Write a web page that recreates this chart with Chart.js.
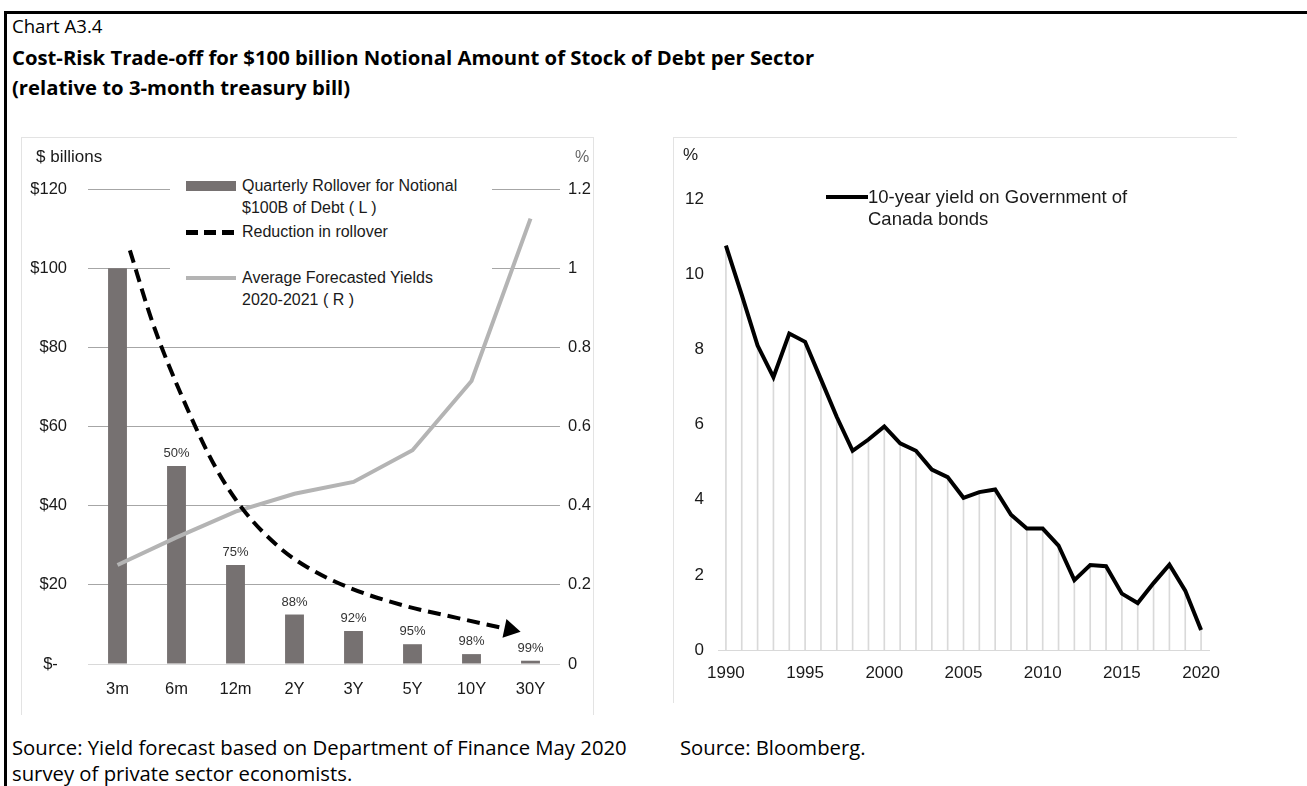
<!DOCTYPE html>
<html><head><meta charset="utf-8">
<script src="https://cdn.jsdelivr.net/npm/chart.js@4"></script>
<style>
html,body{margin:0;background:#fff}
#page{position:relative;width:1307px;height:786px;overflow:hidden;font-family:"Open Sans","Noto Sans",sans-serif;color:#000}
.frame{position:absolute;left:4px;top:11px;right:-10px;bottom:-10px;border-top:3px solid #000;border-left:3px solid #000}
.t{position:absolute;white-space:nowrap}
.hd{font-size:18.6px;line-height:22px}
.ttl{font-size:20.3px;font-weight:700;line-height:26px}
.src{font-size:20.3px;line-height:26px}
.panel{position:absolute;box-sizing:border-box;background:#fff;border:1px solid #e3e3e3}
.cl{font-family:"Liberation Sans",Arial,sans-serif;font-size:16px;line-height:22px;color:#1a1a1a}
.cr{font-family:"Liberation Sans",Arial,sans-serif;font-size:18.5px;line-height:22px;color:#1a1a1a}
canvas{position:absolute}
.lg{position:absolute;background:#fff}
.sw{position:absolute}
</style></head>
<body><div id="page">
<div class="frame"></div>
<div class="t hd" style="left:12px;top:15px">Chart A3.4</div>
<div class="t ttl" style="left:12px;top:44px">Cost-Risk Trade-off for $100 billion Notional Amount of Stock of Debt per Sector</div>
<div class="t ttl" style="left:12px;top:74px">(relative to 3-month treasury bill)</div>

<div class="panel" style="left:21px;top:137px;width:573px;height:578px;border-bottom:none"></div>
<div class="panel" style="left:673px;top:137px;width:564px;height:566px;border-right:none;border-bottom:none"></div>

<canvas id="rollChart" width="571" height="577" style="left:22px;top:138px"></canvas>
<canvas id="gocChart" width="562" height="565" style="left:674px;top:138px"></canvas>

<div class="t cl" style="left:36px;top:146px;font-size:17px">$ billions</div>
<div class="t cl" style="left:575px;top:146px;color:#666">%</div>
<div class="t cr" style="left:683px;top:144px;font-size:17px">%</div>

<!-- legende gauche -->
<div class="lg" style="left:170px;top:175px;width:322px;height:138px"></div>
<div class="sw" style="left:186px;top:181px;width:50px;height:10px;background:#767171"></div>
<div class="t cl" style="left:242px;top:175px">Quarterly Rollover for Notional<br>$100B of Debt ( L )</div>
<div class="sw" style="left:186px;top:230px;width:50px;height:5px;background:repeating-linear-gradient(90deg,#000 0 12px,transparent 12px 18px)"></div>
<div class="t cl" style="left:242px;top:221px">Reduction in rollover</div>
<div class="sw" style="left:186px;top:276px;width:50px;height:4px;background:#b4b4b4"></div>
<div class="t cl" style="left:242px;top:267px">Average Forecasted Yields<br>2020-2021 ( R )</div>

<!-- legende droite -->
<div class="sw" style="left:826px;top:195px;width:42px;height:4px;background:#000"></div>
<div class="t cr" style="left:868px;top:186px">10-year yield on Government of<br>Canada bonds</div>

<div class="t src" style="left:12px;top:734px">Source: Yield forecast based on Department of Finance May 2020<br>survey of private sector economists.</div>
<div class="t src" style="left:680px;top:734px">Source: Bloomberg.</div>
</div>
<script>
// rollover par secteur
const cats=['3m','6m','12m','2Y','3Y','5Y','10Y','30Y'];
const rollover=[100,50,25,12.5,8.33,5,2.5,0.83];
const rollPct=['','50%','75%','88%','92%','95%','98%','99%'];
const fcYield=[0.25,0.32,0.385,0.43,0.46,0.54,0.715,1.125];
// courbe "reduction in rollover" (x en unites de categorie)
const cutX=[0.21,0.6,1.11,1.65,2.13,2.74,3.21,3.94,4.82,5.77,6.65];
const cutY=[104.5,86,67,50,39,29.5,24.5,19.2,14.9,11.6,8.7];
const leftTicks=[0,20,40,60,80,100,120];

// taux 10 ans GdC
const years=['1990','1991','1992','1993','1994','1995','1996','1997','1998','1999','2000','2001','2002','2003','2004','2005','2006','2007','2008','2009','2010','2011','2012','2013','2014','2015','2016','2017','2018','2019','2020'];
const gocYield=[10.76,9.45,8.1,7.26,8.42,8.2,7.2,6.2,5.3,5.6,5.95,5.5,5.3,4.8,4.6,4.05,4.2,4.27,3.6,3.23,3.23,2.78,1.86,2.26,2.23,1.5,1.25,1.78,2.27,1.58,0.53];

Chart.defaults.font.family='"Liberation Sans",Arial,sans-serif';
Chart.defaults.font.size=16;
Chart.defaults.color='#1a1a1a';

const barLbl={id:'barLbl',afterDatasetsDraw(c){
  const m=c.getDatasetMeta(0),x=c.ctx;
  x.save();x.font='13px "Liberation Sans Narrow","Liberation Sans",sans-serif';x.fillStyle='#333';x.textAlign='center';x.textBaseline='bottom';
  m.data.forEach((b,i)=>{if(rollPct[i])x.fillText(rollPct[i],b.x,b.y-6)});
  x.restore();
}};

new Chart(document.getElementById('rollChart'),{type:'bar',
  data:{datasets:[
    {data:rollover.map((v,i)=>({x:i,y:v})),backgroundColor:'#767171',barPercentage:.32,categoryPercentage:1,grouped:false,order:2},
    {type:'line',data:fcYield.map((v,i)=>({x:i,y:v})),yAxisID:'y1',borderColor:'#b4b4b4',borderWidth:4,pointRadius:0,tension:0,order:1},
    {type:'line',data:cutY.map((v,i)=>({x:cutX[i],y:v})),borderColor:'#000',borderWidth:4,borderDash:[13,7],cubicInterpolationMode:'monotone',
     pointStyle:'triangle',pointRadius:c=>c.dataIndex===cutX.length-1?11:0,pointRotation:102,pointBackgroundColor:'#000',pointBorderWidth:0,order:0}
  ]},
  options:{responsive:false,animation:false,events:[],layout:{padding:{top:51,bottom:11}},
    plugins:{legend:{display:false},tooltip:{enabled:false}},
    scales:{
      x:{type:'linear',offset:false,min:-0.5,max:7.5,afterBuildTicks:s=>{s.ticks=cats.map((c,i)=>({value:i}))},
        grid:{display:false,drawTicks:false},border:{display:false},
        ticks:{padding:16,maxRotation:0,font:{size:16.5},callback:v=>cats[v]},afterFit:s=>{s.height=40}},
      y:{min:0,max:120,afterBuildTicks:s=>{s.ticks=leftTicks.map(v=>({value:v}))},
        ticks:{padding:21,font:{size:16.5},callback:v=>v===0?'$-  ':'$'+v},
        grid:{drawTicks:false,color:c=>c.tick.value===0?'#d9d9d9':'#a6a6a6'},border:{display:false},afterFit:s=>{s.width=66}},
      y1:{position:'right',min:0,max:1.2,ticks:{stepSize:.2,padding:8,font:{size:16.5},callback:v=>String(Math.round(v*10)/10)},
        grid:{display:false,drawTicks:false},border:{display:false},afterFit:s=>{s.width=33}}
    }},
  plugins:[barLbl]
});

new Chart(document.getElementById('gocChart'),{type:'bar',
  data:{labels:years,datasets:[
    {type:'line',data:gocYield,borderColor:'#000',borderWidth:4,pointRadius:0,tension:0,order:0},
    {data:gocYield,backgroundColor:'#d9d9d9',barThickness:1,order:1}
  ]},
  options:{responsive:false,animation:false,events:[],layout:{padding:{top:61,right:27,bottom:13}},
    plugins:{legend:{display:false},tooltip:{enabled:false}},
    scales:{
      x:{offset:true,grid:{display:false,drawTicks:false},border:{color:'#d9d9d9'},
        ticks:{autoSkip:false,maxRotation:0,padding:13,font:{size:17},callback:(v,i)=>(+years[i])%5===0?years[i]:''},afterFit:s=>{s.height=40}},
      y:{min:0,max:12,ticks:{stepSize:2,padding:14,font:{size:17}},grid:{display:false,drawTicks:false},border:{display:false},afterFit:s=>{s.width=44}}
    }}
});
</script>
</body></html>
